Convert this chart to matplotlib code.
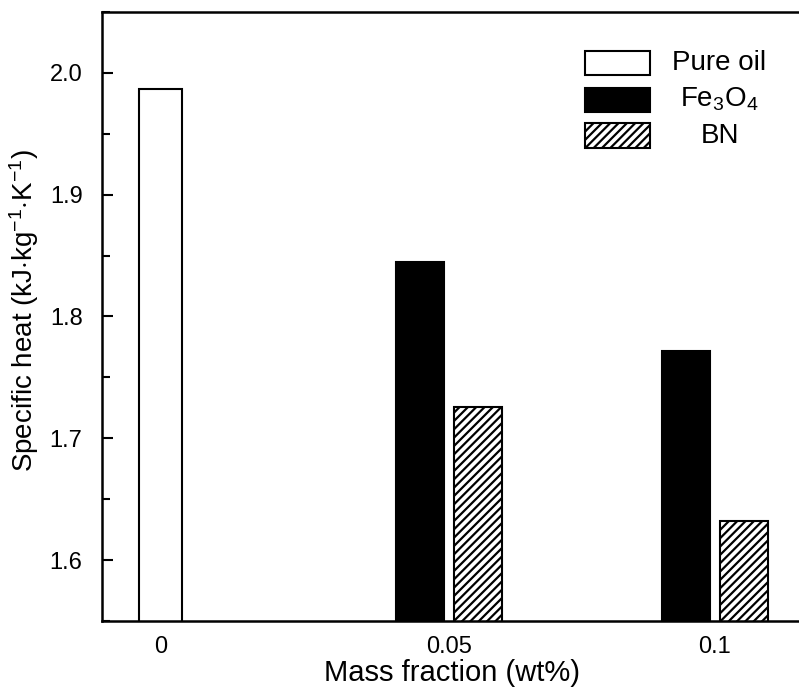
import matplotlib

matplotlib.use("Agg")
import matplotlib.pyplot as plt
from matplotlib.patches import Rectangle
from matplotlib.ticker import MultipleLocator, FormatStrFormatter

plt.rcParams["font.family"] = ["Liberation Sans", "DejaVu Sans"]
plt.rcParams["mathtext.fontset"] = "custom"
plt.rcParams["mathtext.rm"] = "Liberation Sans"
plt.rcParams["mathtext.it"] = "Liberation Sans:italic"
plt.rcParams["hatch.linewidth"] = 1.6

# Mass fraction groups and measured specific heat (kJ/kg/K)
fractions = ["0", "0.05", "0.1"]
pure_oil = [1.987, None, None]
fe3o4 = [None, 1.845, 1.772]
bn = [None, 1.726, 1.632]

series_labels = ["Pure oil", r"Fe$_\mathregular{3}$O$_\mathregular{4}$", "BN"]

# group centres on the x axis (the first group only carries the pure oil bar)
group_pos = [-0.085, 1.0, 2.0]
bar_w = 0.18
offset = 0.11

fig = plt.figure(figsize=(7.99, 6.88), dpi=100)
ax = fig.add_axes([102 / 799, 1 - 621 / 688, 697 / 799, 609 / 688])

edge = dict(edgecolor="black", linewidth=1.5)
for i, x in enumerate(group_pos):
    if pure_oil[i] is not None:
        ax.bar(x, pure_oil[i], width=0.165, color="white", **edge)
    if fe3o4[i] is not None:
        ax.bar(x - offset, fe3o4[i], width=bar_w, color="black", **edge)
    if bn[i] is not None:
        ax.bar(x + offset, bn[i], width=bar_w, color="white", hatch="////", **edge)

ax.set_xlim(-0.305, 2.316)
ax.set_ylim(1.55, 2.05)
ax.set_xticks(group_pos)
ax.set_xticklabels(fractions)
ax.yaxis.set_major_locator(MultipleLocator(0.1))
ax.yaxis.set_minor_locator(MultipleLocator(0.05))
ax.yaxis.set_major_formatter(FormatStrFormatter("%.1f"))

ax.tick_params(axis="x", length=0, pad=11, labelsize=17)
ax.tick_params(axis="y", which="major", direction="in", length=8, width=1.5,
               pad=14, labelsize=17)
ax.tick_params(axis="y", which="minor", direction="in", length=6, width=1.5)

for side in ("left", "top", "bottom"):
    ax.spines[side].set_linewidth(1.8)
ax.spines["right"].set_visible(False)

ax.set_xlabel("Mass fraction (wt%)", fontsize=21)
ax.set_ylabel(r"Specific heat (kJ$\cdot$kg$^\mathregular{-1}$$\cdot$K$^\mathregular{-1}$)",
              fontsize=20)
ax.xaxis.set_label_coords(0.502, -0.062)
ax.yaxis.set_label_coords(-0.087, 0.51)

# legend drawn by hand so the labels sit centred next to the swatches
swatches = [
    dict(facecolor="white"),
    dict(facecolor="black"),
    dict(facecolor="white", hatch="////"),
]
box_bottoms = [0.8966, 0.836, 0.777]
for bottom, style, label in zip(box_bottoms, swatches, series_labels):
    ax.add_patch(Rectangle((0.693, bottom), 0.093, 0.040, transform=ax.transAxes,
                           edgecolor="black", linewidth=1.5, clip_on=False, **style))
    ax.text(0.886, bottom + 0.020, label, transform=ax.transAxes,
            ha="center", va="center", fontsize=20)

fig.savefig("out.png", dpi=100)
